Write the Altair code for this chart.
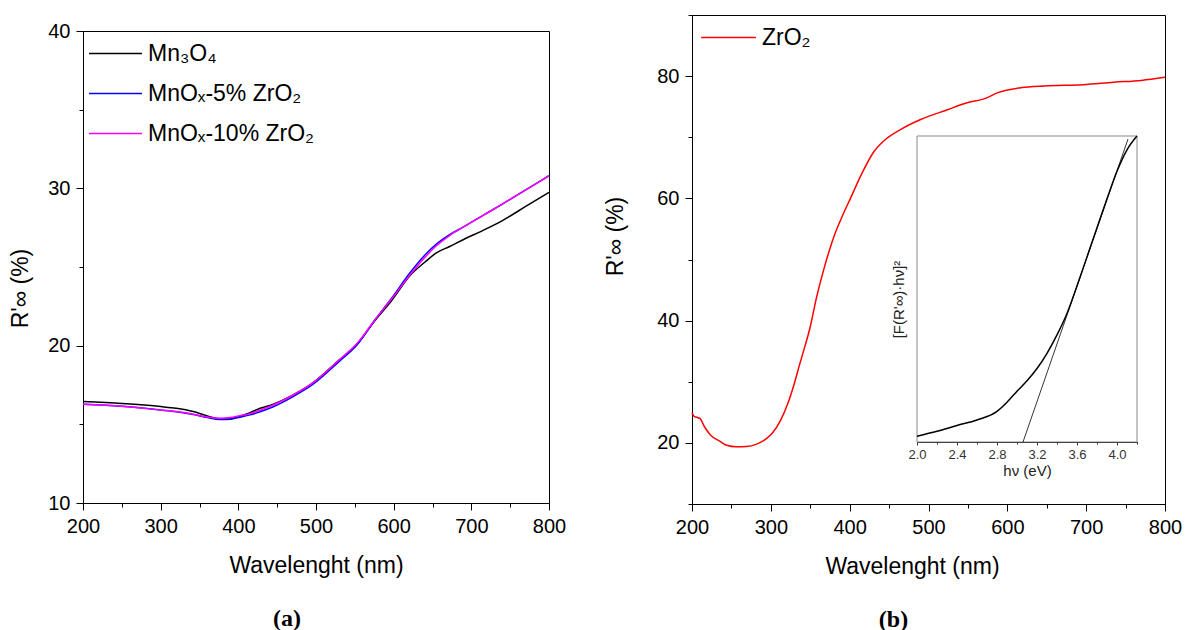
import altair as alt
import pandas as pd

# ---------------- data: panel (a) ----------------
wl_a = [200, 250, 300, 320, 342, 360, 376, 390, 400, 415, 428, 445, 470, 495,
        530, 553, 576, 597, 622, 640, 655, 672, 690, 714, 740, 770, 800]
r_mn3o4 = [16.45, 16.32, 16.13, 16.02, 15.81, 15.53, 15.36, 15.34, 15.49, 15.74,
           16.02, 16.28, 16.85, 17.60, 19.10, 20.10, 21.60, 22.84, 24.50, 25.30,
           25.90, 26.30, 26.75, 27.30, 27.95, 28.85, 29.75]
r_5zr = [16.28, 16.15, 15.91, 15.80, 15.62, 15.43, 15.30, 15.33, 15.43, 15.60,
         15.80, 16.12, 16.75, 17.50, 19.00, 20.05, 21.65, 23.00, 24.70, 25.75,
         26.45, 27.05, 27.55, 28.25, 29.00, 29.90, 30.80]
r_10zr = [16.28, 16.15, 15.91, 15.81, 15.64, 15.47, 15.38, 15.43, 15.53, 15.68,
          15.90, 16.23, 16.85, 17.60, 19.10, 20.15, 21.65, 22.95, 24.55, 25.60,
          26.35, 27.00, 27.55, 28.25, 29.00, 29.90, 30.80]
names_a = ["Mn\u2083O\u2084", "MnO\u2093-5% ZrO\u2082", "MnO\u2093-10% ZrO\u2082"]
colors_a = ["#000000", "#0000ff", "#ff00ff"]

# ---------------- data: panel (b) ----------------
wl_b = [200, 203, 206, 210, 216, 224, 235, 244, 256, 269, 282, 294, 302, 312,
        322, 330, 336, 341, 350, 358, 367, 374, 381, 391, 401, 416, 430, 445,
        465, 490, 524, 548, 573, 588, 617, 647, 696, 735, 770, 800]
r_zro2 = [24.9, 24.3, 24.2, 24.0, 22.6, 21.2, 20.3, 19.6, 19.35, 19.4, 19.8,
          20.65, 21.6, 23.6, 26.6, 29.8, 32.6, 34.8, 39.0, 43.8, 48.3, 51.4,
          54.1, 57.2, 60.0, 64.2, 67.5, 69.6, 71.3, 72.9, 74.5, 75.6, 76.4,
          77.3, 78.1, 78.4, 78.6, 79.0, 79.3, 79.8]
name_b = "ZrO\u2082"

# inset: Tauc-type plot
hv = [2.0, 2.2, 2.4, 2.6, 2.8, 2.9, 3.0, 3.1, 3.2, 3.3, 3.4, 3.5, 3.6, 3.7,
      3.8, 3.9, 4.0, 4.1, 4.2]
f_hv = [0.019, 0.035, 0.054, 0.072, 0.100, 0.130, 0.166, 0.200, 0.240, 0.290,
        0.350, 0.420, 0.510, 0.605, 0.700, 0.795, 0.885, 0.955, 1.000]
hv_tan = [3.06, 4.11]
f_tan = [0.0, 0.99]
inset_box = {"x0": [2.0], "x1": [4.2], "y0": [0.0], "y1": [1.0]}

# ---------------- tables ----------------
rows = []
for nm, vals in zip(names_a, [r_mn3o4, r_5zr, r_10zr]):
    for w, v in zip(wl_a, vals):
        rows.append({"wl": w, "R": v, "sample": nm})
df_a = pd.DataFrame(rows)
df_b = pd.DataFrame({"wl": wl_b, "R": r_zro2, "sample": [name_b] * len(wl_b)})
df_in = pd.DataFrame({"hv": hv, "F": f_hv})
df_tan = pd.DataFrame({"hv": hv_tan, "F": f_tan})
df_box = pd.DataFrame(inset_box)

FONT = "Liberation Sans"
W_A, H_A = 466, 472
W_B, H_B = 473, 489


def x_axis(title_x=None):
    kw = dict(
        title="Wavelenght (nm)",
        values=list(range(200, 801, 50)),
        labelExpr="datum.value % 100 === 0 ? datum.label : ''",
        tickSize={"condition": {"test": "datum.value % 100 === 0", "value": 7}, "value": 4},
        labelPadding=6, titlePadding=18,
    )
    if title_x is not None:
        kw["titleX"] = title_x
    return alt.Axis(**kw)


def legend(x, y, size):
    return alt.Legend(title=None, orient="none", legendX=x, legendY=y,
                      symbolType="stroke", symbolSize=size, symbolStrokeWidth=1.5,
                      labelFont=FONT, labelFontSize=23, labelOffset=5,
                      labelLimit=400, rowPadding=-2, padding=0)


def panel_title(text, dx):
    return alt.TitleParams(text, orient="bottom", font="Liberation Serif",
                           fontSize=24, fontWeight="bold", offset=30, dx=dx)


# ---------------- panel (a) ----------------
panel_a = alt.Chart(df_a).mark_line(strokeWidth=1.5, interpolate="monotone").encode(
    x=alt.X("wl:Q", scale=alt.Scale(domain=[200, 800], nice=False), axis=x_axis()),
    y=alt.Y("R:Q", scale=alt.Scale(domain=[10, 40], nice=False, zero=False),
            axis=alt.Axis(title="R'\u221e (%)", values=list(range(10, 41, 5)),
                          labelExpr="datum.value % 10 === 0 ? datum.label : ''",
                          tickSize={"condition": {"test": "datum.value % 10 === 0", "value": 7}, "value": 4},
                          labelPadding=6, titlePadding=15, titleY=257)),
    color=alt.Color("sample:N", scale=alt.Scale(domain=names_a, range=colors_a),
                    legend=legend(5, 11, 2800)),
    order=alt.Order("wl:Q"),
).properties(width=W_A, height=H_A, title=panel_title("(a)", -29))

spacer = alt.Chart(pd.DataFrame({"v": [0]})).mark_point(opacity=0).encode(
    x=alt.value(0), y=alt.value(0)
).properties(width=W_A, height=16, view=alt.ViewBackground(stroke="transparent"))

left = alt.vconcat(spacer, panel_a, spacing=0, bounds="flush")

# ---------------- panel (b) ----------------
main_b = alt.Chart(df_b).mark_line(strokeWidth=1.5, interpolate="monotone").encode(
    x=alt.X("wl:Q", scale=alt.Scale(domain=[200, 800], nice=False), axis=x_axis(220)),
    y=alt.Y("R:Q", scale=alt.Scale(domain=[10, 90], nice=False, zero=False),
            axis=alt.Axis(title="R'\u221e (%)", values=list(range(10, 91, 10)),
                          labelExpr="datum.value % 20 === 0 ? datum.label : ''",
                          tickSize={"condition": {"test": "datum.value % 20 === 0", "value": 7}, "value": 4},
                          labelPadding=6, titlePadding=29, titleY=221)),
    color=alt.Color("sample:N", scale=alt.Scale(domain=[name_b], range=["#ff0000"]),
                    legend=legend(8, -6, 3000)),
)

# inset placed inside the plot area through its own scale ranges
IN_L, IN_R, IN_T, IN_B = 225, 445, 121, 427
sx = alt.Scale(domain=[2.0, 4.2], range=[IN_L, IN_R], nice=False, zero=False)
sy = alt.Scale(domain=[0, 1], range=[IN_B, IN_T], nice=False, zero=False)
ticks_in = [round(2.0 + 0.2 * i, 1) for i in range(12)]

inset_x_axis = alt.Axis(
    title="h\u03bd (eV)", orient="bottom", offset=-(H_B - IN_B), values=ticks_in,
    labelExpr="round(datum.value * 10) % 4 === 0 ? format(datum.value, '.1f') : ''",
    tickSize={"condition": {"test": "round(datum.value * 10) % 4 === 0", "value": 3}, "value": 2},
    labelFontSize=13, titleFontSize=15, labelPadding=3, titlePadding=2,
    labelColor="#333333", titleColor="#222222", tickColor="#333333",
    domainColor="#000000")
inset_y_axis = alt.Axis(
    title="[F(R'\u221e)\u00b7h\u03bd]\u00b2", orient="left", offset=-IN_L,
    labels=False, ticks=False, titleFontSize=15, titlePadding=11,
    titleColor="#222222", domainColor="#000000", titleY=284)

box = alt.Chart(df_box).mark_rect(fill="white", stroke="#888888", strokeWidth=1).encode(
    x=alt.X("x0:Q", scale=sx, axis=inset_x_axis), x2="x1:Q",
    y=alt.Y("y0:Q", scale=sy, axis=inset_y_axis), y2="y1:Q")
curve = alt.Chart(df_in).mark_line(color="black", strokeWidth=1.5, interpolate="monotone").encode(
    x=alt.X("hv:Q", scale=sx), y=alt.Y("F:Q", scale=sy))
tangent = alt.Chart(df_tan).mark_line(color="black", strokeWidth=0.8).encode(
    x=alt.X("hv:Q", scale=sx), y=alt.Y("F:Q", scale=sy))
inset = alt.layer(box, curve, tangent)

panel_b = alt.layer(main_b, inset).resolve_scale(
    x="independent", y="independent"
).resolve_axis(x="independent", y="independent").properties(
    width=W_B, height=H_B, title=panel_title("(b)", -35))

chart = alt.hconcat(left, panel_b, spacing=37).resolve_scale(
    color="independent"
).properties(
    padding={"left": 9, "top": 4, "right": 0, "bottom": 0},
    background="white",
).configure_view(stroke="black", strokeWidth=1).configure_axis(
    labelFont=FONT, titleFont=FONT, labelFontSize=20, titleFontSize=23,
    titleFontWeight="normal", labelColor="black", titleColor="black",
    tickColor="black", domainColor="black", grid=False,
    labelFlush=False, labelOverlap=False,
)

chart.save("out.html", embed_options={"renderer": "svg", "actions": False})
